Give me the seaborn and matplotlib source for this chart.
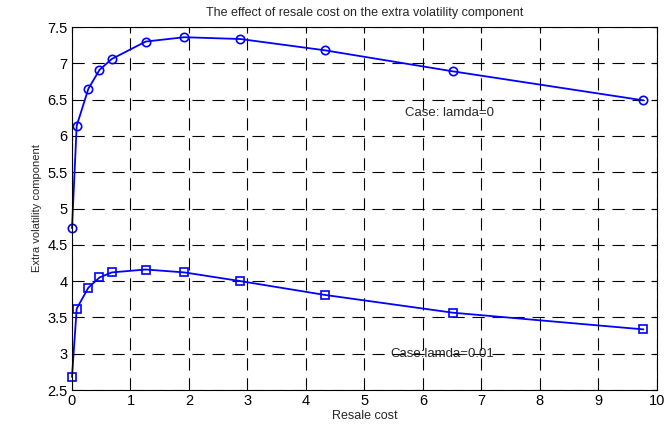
import matplotlib
matplotlib.use("Agg")
import matplotlib.pyplot as plt
import seaborn as sns
import pandas as pd

resale_cost = [0, 0.08, 0.28, 0.47, 0.68, 1.26, 1.92, 2.88, 4.32, 6.51, 9.77]
vol_lamda0 = [4.73, 6.14, 6.65, 6.91, 7.06, 7.30, 7.36, 7.335, 7.18, 6.89, 6.49]
vol_lamda001 = [2.68, 3.62, 3.91, 4.05, 4.12, 4.16, 4.12, 4.00, 3.81, 3.565, 3.335]
x_ticks = [0, 1, 2, 3, 4, 5, 6, 7, 8, 9, 10]
y_ticks = [2.5, 3, 3.5, 4, 4.5, 5, 5.5, 6, 6.5, 7, 7.5]

sns.set_style("white")
plt.rcParams['font.family'] = ['Liberation Sans', 'DejaVu Sans']

df0 = pd.DataFrame({"x": resale_cost, "y": vol_lamda0})
df1 = pd.DataFrame({"x": resale_cost, "y": vol_lamda001})

fig = plt.figure(figsize=(6.71, 4.26), dpi=100)
ax = fig.add_axes([0.1073, 0.0845, 0.8717, 0.852])

sns.lineplot(data=df0, x="x", y="y", ax=ax, color="#0000ff", linewidth=1.3,
             marker="o", markersize=6, markerfacecolor="none",
             markeredgecolor="#0000ff", markeredgewidth=1.2, clip_on=False)
sns.lineplot(data=df1, x="x", y="y", ax=ax, color="#0000ff", linewidth=1.3,
             marker="s", markersize=6, markerfacecolor="none",
             markeredgecolor="#0000ff", markeredgewidth=1.2, clip_on=False)

ax.set_xlim(0, 10)
ax.set_ylim(2.5, 7.5)
ax.set_xticks(x_ticks)
ax.set_yticks(y_ticks)
ax.set_xticklabels([str(t) for t in x_ticks])
ax.set_yticklabels([f"{t:g}" for t in y_ticks])
ax.grid(True, color="black", linestyle=(0, (11, 7)), linewidth=0.8)
ax.set_axisbelow(True)
ax.tick_params(direction="in", length=4, labelsize=10.5, colors="black", pad=3,
               top=True, right=True)
for s in ax.spines.values():
    s.set_color("black")
    s.set_linewidth(0.8)

ax.set_xlabel("Resale cost", fontsize=9, labelpad=1)
ax.set_ylabel("Extra volatility component", fontsize=8, labelpad=4)
ax.set_title("The effect of resale cost on the extra volatility component", fontsize=9, pad=8)

ax.text(5.7, 6.32, "Case: lamda=0", fontsize=9.5, va="center", ha="left")
ax.text(5.45, 3.0, "Case:lamda=0.01", fontsize=9.5, va="center", ha="left")

fig.savefig("out.png", dpi=100)
